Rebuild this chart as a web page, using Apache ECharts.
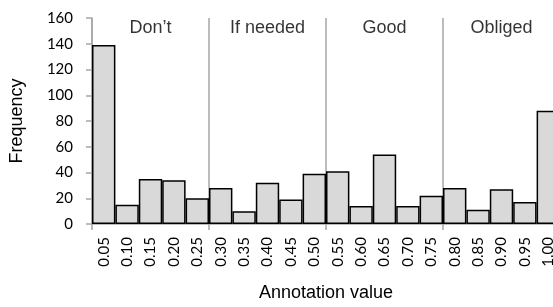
<!DOCTYPE html>
<html>
<head>
<meta charset="utf-8">
<script src="https://cdn.jsdelivr.net/npm/echarts@6/dist/echarts.min.js"></script>
<style>
html,body{margin:0;padding:0;background:#fff;}
#main{width:553px;height:307px;}
</style>
</head>
<body>
<div id="main"></div>
<script>
// annotation value bins
var bins = ['0.05','0.10','0.15','0.20','0.25','0.30','0.35','0.40','0.45','0.50',
	'0.55','0.60','0.65','0.70','0.75','0.80','0.85','0.90','0.95','1.00'];
var counts = [139,15,35,34,20,28,10,32,19,39,41,14,54,14,22,28,11,27,17,88];
// band labels, placed over the middle bin of each group of five
var groupNames = ['Don\u2019t','If needed','Good','Obliged'];
var groupBins = ['0.15','0.40','0.65','0.90'];
var groupLabelY = 152;

function everyFifth(index) {
	return index % 5 === 0;
}

var chart = echarts.init(document.getElementById('main'));
chart.setOption({
	animation: false,
	grid: {left: 92, width: 468, top: 18, bottom: 83, containLabel: false, outerBoundsMode: 'none'},
	xAxis: {
		type: 'category',
		data: bins,
		name: 'Annotation value',
		nameLocation: 'middle',
		nameGap: 60,
		nameTextStyle: {fontFamily: 'Liberation Sans', fontSize: 18, color: '#000'},
		axisLine: {lineStyle: {color: '#a6a6a6', width: 1.5}},
		axisTick: {show: true, interval: everyFifth, length: 6, lineStyle: {color: '#a6a6a6', width: 1.5}},
		splitLine: {show: true, interval: everyFifth, lineStyle: {color: '#a6a6a6', width: 1.5}},
		axisLabel: {rotate: 90, interval: 0, margin: 13, fontFamily: 'Lato', fontSize: 15, color: '#000'}
	},
	yAxis: {
		type: 'value',
		min: 0,
		max: 160,
		interval: 20,
		name: 'Frequency',
		nameLocation: 'middle',
		nameGap: 66,
		nameTextStyle: {fontFamily: 'Liberation Sans', fontSize: 18, color: '#000'},
		axisLine: {show: true, lineStyle: {color: '#a6a6a6', width: 1.5}},
		axisTick: {show: true, length: 6, lineStyle: {color: '#a6a6a6', width: 1.5}},
		splitLine: {show: false},
		axisLabel: {margin: 19, fontFamily: 'Lato', fontSize: 15, color: '#000'}
	},
	series: [
	{
		type: 'bar',
		data: counts,
		barWidth: '100%',
		barCategoryGap: 0,
		itemStyle: {color: '#d9d9d9', borderColor: '#000', borderWidth: 1.5}
	},
	{
		type: 'scatter',
		symbolSize: 0,
		data: groupBins.map(function (b, i) {
			return {value: [b, groupLabelY], name: groupNames[i]};
		}),
		label: {
			show: true,
			position: 'inside',
			formatter: '{b}',
			fontFamily: 'Liberation Sans',
			fontSize: 18,
			color: '#000'
		},
		silent: true
	}]
});
</script>
</body>
</html>
